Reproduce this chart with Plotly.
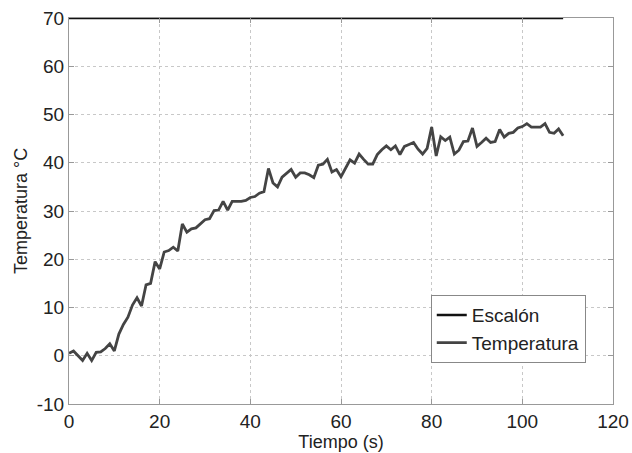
import plotly.graph_objects as go

tiempo = list(range(0, 110))
temperatura = [
    0.5, 1.0, 0.0, -1.0, 0.5, -1.0, 0.7, 0.8, 1.5, 2.5,
    1.0, 4.5, 6.5, 8.0, 10.5, 12.0, 10.3, 14.7, 15.0, 19.5,
    18.0, 21.5, 21.8, 22.5, 21.7, 27.3, 25.6, 26.3, 26.5, 27.3,
    28.2, 28.4, 30.1, 30.2, 32.0, 30.2, 32.0, 32.0, 32.0, 32.2,
    32.8, 33.0, 33.7, 34.0, 38.8, 35.8, 35.0, 37.0, 37.9, 38.6,
    37.0, 37.9, 37.9, 37.5, 36.9, 39.5, 39.7, 40.7, 38.1, 38.6,
    37.1, 38.8, 40.6, 39.9, 41.8, 40.7, 39.7, 39.7, 41.7, 42.7,
    43.5, 42.7, 43.5, 41.7, 43.4, 43.8, 44.2, 42.8, 41.8, 43.0,
    47.4, 41.4, 45.4, 44.6, 45.3, 41.8, 42.6, 44.4, 44.5, 47.2,
    43.4, 44.2, 45.1, 44.2, 44.4, 46.9, 45.3, 46.1, 46.3, 47.2,
    47.5, 48.1, 47.4, 47.4, 47.4, 48.1, 46.3, 46.1, 47.0, 45.6,
]
escalon_t = [0, 109]
escalon_v = [70, 70]

x_ticks = [0, 20, 40, 60, 80, 100, 120]
x_labels = ["0", "20", "40", "60", "80", "100", "120"]
y_ticks = [-10, 0, 10, 20, 30, 40, 50, 60, 70]
y_labels = ["-10", "0", "10", "20", "30", "40", "50", "60", "70"]

font = "Liberation Sans, Arial, sans-serif"

fig = go.Figure()
fig.add_trace(go.Scatter(x=escalon_t, y=escalon_v, mode="lines", name="Escalón",
                         line=dict(color="#111111", width=2.5)))
fig.add_trace(go.Scatter(x=tiempo, y=temperatura, mode="lines", name="Temperatura",
                         line=dict(color="#444444", width=2.8)))

axis_common = dict(
    showgrid=True, gridcolor="#c8c8c8", griddash="dot", gridwidth=1,
    showline=True, linecolor="#999999", linewidth=1, mirror="ticks",
    ticks="inside", ticklen=5, tickcolor="#999999",
    zeroline=False, automargin=False,
    tickfont=dict(family=font, size=19, color="#222222"),
)

fig.update_layout(
    width=632, height=453,
    margin=dict(l=69, r=19, t=18, b=49),
    paper_bgcolor="white", plot_bgcolor="white",
    font=dict(family=font, size=18, color="#222222"),
    xaxis=dict(range=[0, 120], tickvals=x_ticks, ticktext=x_labels, **axis_common,
               title=dict(text="Tiempo (s)", font=dict(family=font, size=18), standoff=2)),
    yaxis=dict(range=[-10, 70], tickvals=y_ticks, ticktext=y_labels, **axis_common,
               title=dict(text="Temperatura °C", font=dict(family=font, size=18), standoff=4)),
    legend=dict(x=0.665, y=0.282, xanchor="left", yanchor="top",
                bgcolor="white", bordercolor="#888888", borderwidth=1,
                font=dict(family=font, size=19, color="#222222"),
                tracegroupgap=0, itemwidth=30),
    showlegend=True,
)

fig.write_html("out.html")
